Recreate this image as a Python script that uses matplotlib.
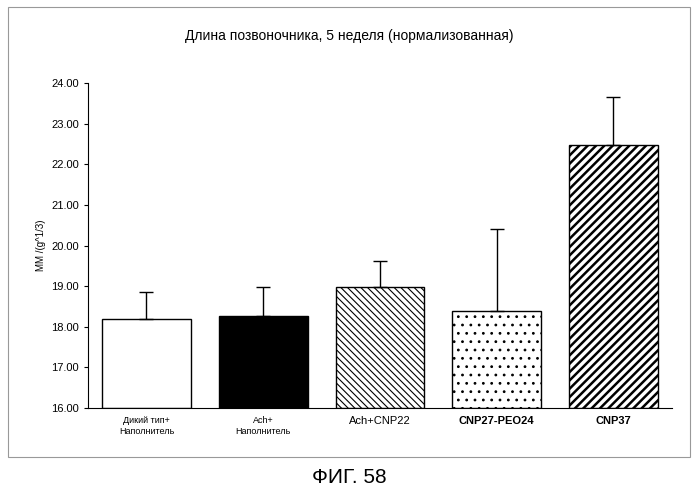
import matplotlib
matplotlib.use('Agg')
import matplotlib.pyplot as plt
from matplotlib.patches import Rectangle

categories = ['Дикий тип+\nНаполнитель', 'Ach+\nНаполнитель', 'Ach+CNP22', 'CNP27-PEO24', 'CNP37']
values = [18.20, 18.27, 18.98, 18.40, 22.48]
errors = [0.66, 0.70, 0.63, 2.00, 1.17]
yticks = [16, 17, 18, 19, 20, 21, 22, 23, 24]

fig = plt.figure(figsize=(6.99, 4.94), dpi=100)
ax = fig.add_axes([0.126, 0.174, 0.835, 0.658])

faces = ['white', 'black', 'white', 'white', 'white']
hatches = [None, None, '\\\\\\\\\\', '..', '////']
hatch_lw = [1.0, 1.0, 0.8, 0.8, 1.8]
for i, (v, e) in enumerate(zip(values, errors)):
    plt.rcParams['hatch.linewidth'] = hatch_lw[i]
    ax.bar(i, v - 16, bottom=16, width=0.76, color=faces[i], edgecolor='black',
           hatch=hatches[i], linewidth=1.0)
    ax.errorbar(i, v, yerr=[[0], [e]], fmt='none', ecolor='black', capsize=5, elinewidth=1)

ax.set_xlim(-0.5, 4.5)
ax.set_ylim(16, 24)
ax.set_yticks(yticks)
ax.set_yticklabels([f'{t:.2f}' for t in yticks], fontsize=8, fontfamily='Liberation Sans')
ax.set_xticks(range(len(categories)))
ax.set_xticklabels(categories, fontfamily='Liberation Sans')
for i, lab in enumerate(ax.get_xticklabels()):
    lab.set_fontsize(6.5 if i < 2 else 8)
    if i >= 3:
        lab.set_fontweight('bold')
ax.tick_params(axis='x', length=0, pad=6)
ax.tick_params(axis='y', length=3)
ax.spines['top'].set_visible(False)
ax.spines['right'].set_visible(False)
ax.set_ylabel('MM /(g^1/3)', fontsize=7, fontfamily='Liberation Sans')

fig.text(0.5, 0.92, 'Длина позвоночника, 5 неделя (нормализованная)', ha='center',
         fontsize=10, fontfamily='Liberation Sans')
fig.patches.append(Rectangle((0.012, 0.075), 0.975, 0.91, transform=fig.transFigure,
                             fill=False, edgecolor='#999999', linewidth=0.8))
fig.text(0.5, 0.022, 'ФИГ. 58', ha='center', fontsize=15, fontfamily='Liberation Sans')

fig.savefig('out.png', dpi=100)
